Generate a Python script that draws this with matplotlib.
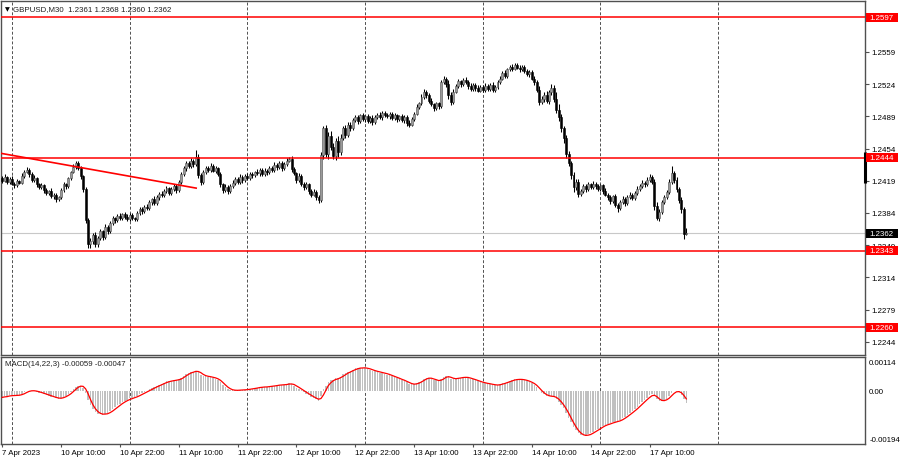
import numpy as np
import pandas as pd
import matplotlib
matplotlib.use('Agg')
import matplotlib.pyplot as plt
from matplotlib.patches import Rectangle

plt.rcParams['font.family'] = ['Liberation Sans', 'DejaVu Sans']

symbol_title = 'GBPUSD,M30  1.2361 1.2368 1.2360 1.2362'
macd_title = 'MACD(14,22,3) -0.00059 -0.00047'

# M30 closes, 7 Apr 22:00 .. 17 Apr 17:30
first_open = 1.2422
closes = [
    1.2419, 1.2423, 1.2418, 1.2421, 1.2416, 1.2414, 1.2419, 1.2417, 1.2424, 1.2429,
    1.2431, 1.2426, 1.2420, 1.2422, 1.2415, 1.2412, 1.2414, 1.2409, 1.2406, 1.2408,
    1.2402, 1.2404, 1.2399, 1.2401, 1.2409, 1.2415, 1.2413, 1.2422, 1.2428, 1.2434,
    1.2438, 1.2433, 1.2424, 1.2410, 1.2376, 1.2350, 1.2353, 1.2360, 1.2350, 1.2357,
    1.2364, 1.2358, 1.2369, 1.2364, 1.2373, 1.2378, 1.2376, 1.2381, 1.2378, 1.2383,
    1.2380, 1.2377, 1.2382, 1.2379, 1.2377, 1.2384, 1.2388, 1.2386, 1.2391, 1.2389,
    1.2396, 1.2399, 1.2395, 1.2401, 1.2405, 1.2403, 1.2408, 1.2411, 1.2406, 1.2410,
    1.2413, 1.2409, 1.2418, 1.2426, 1.2433, 1.2438, 1.2435, 1.2441, 1.2437, 1.2445,
    1.2425, 1.2418, 1.2428, 1.2433, 1.2431, 1.2435, 1.2430, 1.2433, 1.2426, 1.2415,
    1.2409, 1.2412, 1.2408, 1.2413, 1.2417, 1.2421, 1.2418, 1.2423, 1.2420, 1.2424,
    1.2422, 1.2426, 1.2425, 1.2429, 1.2427, 1.2431, 1.2426, 1.2430, 1.2428, 1.2433,
    1.2431, 1.2436, 1.2434, 1.2438, 1.2433, 1.2437, 1.2441, 1.2443, 1.2432, 1.2427,
    1.2420, 1.2424, 1.2416, 1.2412, 1.2415, 1.2408, 1.2404, 1.2407, 1.2401, 1.2398,
    1.2447, 1.2476, 1.2448, 1.2468, 1.2456, 1.2446, 1.2462, 1.2450, 1.2466, 1.2476,
    1.2469, 1.2480, 1.2476, 1.2485, 1.2488, 1.2484, 1.2490, 1.2486, 1.2489, 1.2484,
    1.2487, 1.2483, 1.2488, 1.2491, 1.2488, 1.2493, 1.2490, 1.2489, 1.2492, 1.2487,
    1.2490, 1.2486, 1.2489, 1.2485, 1.2488, 1.2482, 1.2480, 1.2486, 1.2492, 1.2499,
    1.2503, 1.2510, 1.2516, 1.2512, 1.2506, 1.2502, 1.2498, 1.2503, 1.2500, 1.2526,
    1.2530, 1.2524, 1.2512, 1.2505, 1.2516, 1.2522, 1.2527, 1.2524, 1.2529, 1.2526,
    1.2522, 1.2519, 1.2523, 1.2520, 1.2517, 1.2521, 1.2518, 1.2522, 1.2519, 1.2523,
    1.2518, 1.2521, 1.2526, 1.2530, 1.2536, 1.2533, 1.2540, 1.2543, 1.2541, 1.2545,
    1.2542, 1.2540, 1.2543, 1.2538, 1.2535, 1.2537, 1.2530, 1.2526, 1.2518, 1.2505,
    1.2508, 1.2512, 1.2506, 1.2515, 1.2520, 1.2508, 1.2496, 1.2488, 1.2476, 1.2465,
    1.2448, 1.2438, 1.2425, 1.2412, 1.2418, 1.2405, 1.2408, 1.2413, 1.2410, 1.2415,
    1.2412, 1.2416, 1.2413, 1.2410, 1.2414, 1.2408, 1.2404, 1.2401, 1.2397, 1.2402,
    1.2393, 1.2389, 1.2396, 1.2399, 1.2395, 1.2401, 1.2404, 1.2400, 1.2406, 1.2410,
    1.2413, 1.2417, 1.2415, 1.2420, 1.2423, 1.2418, 1.2392, 1.2378, 1.2385, 1.2396,
    1.2401, 1.2407, 1.2418, 1.2427, 1.2420, 1.2410, 1.2398, 1.2388, 1.2361, 1.2362,
]
# wicks in pips above / below the body
wick_up = [
    2, 3, 1, 2, 3, 2, 2, 1, 3, 2,  3, 2, 2, 3, 1, 2, 3, 2, 2, 1,
    3, 2, 2, 1, 2, 3, 2, 1, 2, 3,  2, 3, 2, 1, 2, 3, 4, 2, 3, 2,
    3, 2, 3, 2, 2, 3, 2, 2, 3, 1,  2, 3, 2, 2, 1, 2, 3, 2, 2, 3,
    2, 1, 3, 2, 2, 3, 2, 2, 1, 2,  3, 2, 2, 3, 2, 3, 2, 3, 2, 7,
    3, 2, 3, 2, 2, 3, 2, 2, 1, 3,  2, 3, 2, 2, 3, 2, 2, 3, 2, 2,
    3, 2, 2, 1, 3, 2, 2, 3, 2, 2,  2, 3, 2, 3, 2, 2, 3, 2, 3, 2,
    2, 3, 2, 2, 3, 2, 2, 3, 2, 2,  3, 3, 4, 4, 5, 4, 3, 6, 4, 3,
    4, 3, 3, 2, 3, 2, 2, 3, 2, 3,  2, 3, 2, 2, 3, 2, 2, 3, 2, 2,
    3, 2, 2, 3, 2, 2, 3, 2, 2, 3,  2, 3, 3, 2, 2, 3, 2, 2, 2, 3,
    3, 2, 5, 4, 3, 2, 3, 2, 2, 3,  2, 3, 2, 2, 3, 2, 2, 3, 2, 2,
    3, 2, 2, 3, 2, 3, 2, 2, 3, 2,  2, 3, 2, 2, 3, 2, 2, 3, 2, 4,
    3, 4, 5, 3, 4, 3, 8, 6, 4, 3,  4, 3, 3, 4, 3, 3, 2, 3, 2, 3,
    2, 3, 2, 3, 2, 2, 3, 2, 3, 2,  3, 2, 2, 3, 2, 2, 3, 2, 2, 3,
    2, 3, 2, 3, 3, 2, 3, 4, 3, 2,  3, 2, 3, 8, 3, 3, 2, 3, 3, 6,
]
wick_dn = [
    2, 1, 3, 2, 2, 3, 2, 2, 1, 2,  2, 3, 2, 2, 3, 2, 2, 3, 2, 2,
    2, 3, 3, 2, 2, 2, 3, 2, 2, 1,  2, 2, 3, 3, 3, 4, 4, 3, 3, 3,
    2, 3, 2, 3, 2, 2, 3, 2, 2, 2,  3, 2, 2, 3, 2, 2, 2, 3, 2, 2,
    2, 3, 2, 2, 3, 2, 2, 2, 3, 2,  2, 3, 2, 2, 2, 3, 2, 2, 3, 2,
    3, 4, 2, 2, 3, 2, 2, 3, 2, 3,  3, 2, 3, 2, 2, 3, 2, 2, 3, 2,
    2, 2, 3, 2, 2, 3, 2, 2, 3, 2,  2, 2, 3, 2, 3, 2, 2, 2, 3, 2,
    3, 2, 3, 3, 2, 3, 3, 2, 3, 3,  2, 4, 3, 5, 4, 3, 4, 5, 3, 3,
    3, 2, 3, 2, 2, 3, 2, 2, 3, 2,  2, 3, 2, 2, 2, 3, 2, 2, 3, 2,
    2, 3, 2, 2, 3, 3, 3, 2, 2, 2,  2, 2, 2, 3, 3, 2, 3, 2, 3, 2,
    2, 3, 4, 4, 3, 2, 2, 3, 2, 2,  3, 2, 2, 3, 2, 2, 3, 2, 2, 2,
    2, 3, 2, 2, 2, 2, 2, 2, 3, 2,  2, 3, 2, 2, 2, 3, 2, 3, 3, 4,
    3, 3, 3, 4, 3, 3, 3, 4, 4, 5,  4, 3, 4, 5, 3, 4, 3, 2, 3, 2,
    2, 2, 3, 2, 2, 3, 2, 3, 3, 2,  3, 4, 2, 2, 3, 2, 2, 2, 2, 2,
    2, 2, 3, 2, 2, 3, 5, 2, 3, 2,  2, 2, 2, 2, 3, 3, 3, 4, 5, 1,
]

# MACD(14,22,3) state before the first visible bar
ema_fast_seed = 1.24195
ema_slow_seed = 1.24225

levels = [1.2597, 1.2444, 1.2343, 1.2260]
bid = 1.2362
trend_x = [-0.9, 79.1]
trend_y = [1.2449, 1.2411]

price_ticks = [1.2559, 1.2524, 1.2489, 1.2454, 1.2419,
               1.2384, 1.2349, 1.2314, 1.2279, 1.2244]
macd_ticks = [0.00114, 0.0, -0.00194]
macd_tick_labels = ['0.00114', '0.00', '-0.00194']

time_bars = [0, 24, 48, 72, 96, 120, 144, 168, 192, 216, 240, 264]
time_labels = ['7 Apr 2023', '10 Apr 10:00', '10 Apr 22:00', '11 Apr 10:00',
               '11 Apr 22:00', '12 Apr 10:00', '12 Apr 22:00', '13 Apr 10:00',
               '13 Apr 22:00', '14 Apr 10:00', '14 Apr 22:00', '17 Apr 10:00']
day_bars = [4, 52, 100, 148, 196, 244, 292]


def ema(values, n, seed):
    k = 2.0 / (n + 1)
    out = []
    e = seed
    for v in values:
        e = e + k * (v - e)
        out.append(e)
    return np.array(out)


closes = np.array(closes)
opens = np.r_[first_open, closes[:-1]]
pip = 0.0001
highs = np.maximum(opens, closes) + np.array(wick_up) * pip
lows = np.minimum(opens, closes) - np.array(wick_dn) * pip
x = np.arange(len(closes))

macd_main = ema(closes, 14, ema_fast_seed) - ema(closes, 22, ema_slow_seed)
macd_signal = pd.Series(macd_main).rolling(3, min_periods=1).mean().values

FS = 5.7
frame = '#505050'
W, H = 900, 460
fig = plt.figure(figsize=(9, 4.6), dpi=100)
fig.patch.set_facecolor('white')
ax = fig.add_axes([1 / W, (H - 356) / H, 864 / W, 354 / H])
ax2 = fig.add_axes([1 / W, (H - 445) / H, 864 / W, 87 / H])

xlim = ((1 - 2.2) / 2.452, (865 - 2.2) / 2.452)
for a in (ax, ax2):
    a.set_xlim(*xlim)
    for s in a.spines.values():
        s.set_color(frame)
        s.set_linewidth(1.0)
    for d in day_bars:
        a.axvline(d, color='#505050', lw=0.7, ls=(0, (3, 2)), zorder=0)

ax.set_ylim(1.22296, 1.26144)
ax2.set_ylim(-0.00214, 0.00134)

# candles: bull grey, bear black
ax.vlines(x, lows, highs, color='black', lw=0.75, zorder=3)
up = closes >= opens
body_h = np.maximum(np.abs(closes - opens), 0.00005)
ax.bar(x[up], body_h[up], bottom=opens[up], width=0.8,
       color='#9a9a9a', edgecolor='#505050', linewidth=0.4, zorder=4)
ax.bar(x[~up], body_h[~up], bottom=closes[~up], width=0.8,
       color='black', edgecolor='black', linewidth=0.4, zorder=4)

# levels
ax.axhline(bid, color='#c8c8c8', lw=0.8, zorder=1)
for lv in levels:
    ax.axhline(lv, color='#ff0000', lw=1.1, zorder=5)
ax.plot(trend_x, trend_y, color='#ff0000', lw=1.2, zorder=5)

# price axis
ax.yaxis.tick_right()
ax.set_yticks(price_ticks)
ax.set_yticklabels([f'{t:.4f}' for t in price_ticks])
ax.tick_params(axis='y', length=3, width=0.8, color=frame, labelsize=FS, pad=1.5)
ax.tick_params(axis='x', bottom=False, labelbottom=False)

tr = ax.get_yaxis_transform()
bw = 32 / 864
bh = 9 * (1.26144 - 1.22296) / 354
for lv, fc in [(lv, '#ff0000') for lv in levels] + [(bid, 'black')]:
    ax.add_patch(Rectangle((1 + 1 / 864, lv - bh / 2), bw, bh, transform=tr,
                           facecolor=fc, edgecolor='none', clip_on=False, zorder=10))
    ax.text(1 + 4 / 864, lv, f'{lv:.4f}', transform=tr, color='white', fontsize=FS,
            va='center', ha='left', clip_on=False, zorder=11)
ax.plot([1, 1], [1.2450, 1.2417], transform=tr, color='black', lw=2.2,
        clip_on=False, zorder=9, solid_capstyle='butt')

ax.text(4 / 864, 1 - 8 / 354, '\u25bc', transform=ax.transAxes, fontsize=4.5,
        va='center', ha='left', family=['DejaVu Sans'])
ax.text(12 / 864, 1 - 8 / 354, symbol_title, transform=ax.transAxes,
        fontsize=FS, va='center', ha='left', color='#202020')

# MACD panel
ax2.bar(x, macd_main, width=0.62, color='#c0c0c0', zorder=2)
ax2.plot(x, macd_signal, color='#ff0000', lw=0.9, zorder=3)
ax2.yaxis.tick_right()
ax2.set_yticks(macd_ticks)
ax2.set_yticklabels(macd_tick_labels)
ax2.tick_params(axis='y', length=0, labelsize=FS, pad=3)
ax2.set_xticks(time_bars)
ax2.set_xticklabels(time_labels, ha='left')
ax2.tick_params(axis='x', length=2, width=0.8, color=frame, labelsize=FS, pad=1.5)
ax2.text(4 / 864, 1 - 7 / 87, macd_title, transform=ax2.transAxes,
         fontsize=FS, va='center', ha='left', color='#202020')

fig.savefig('out.png', dpi=100, facecolor='white')
